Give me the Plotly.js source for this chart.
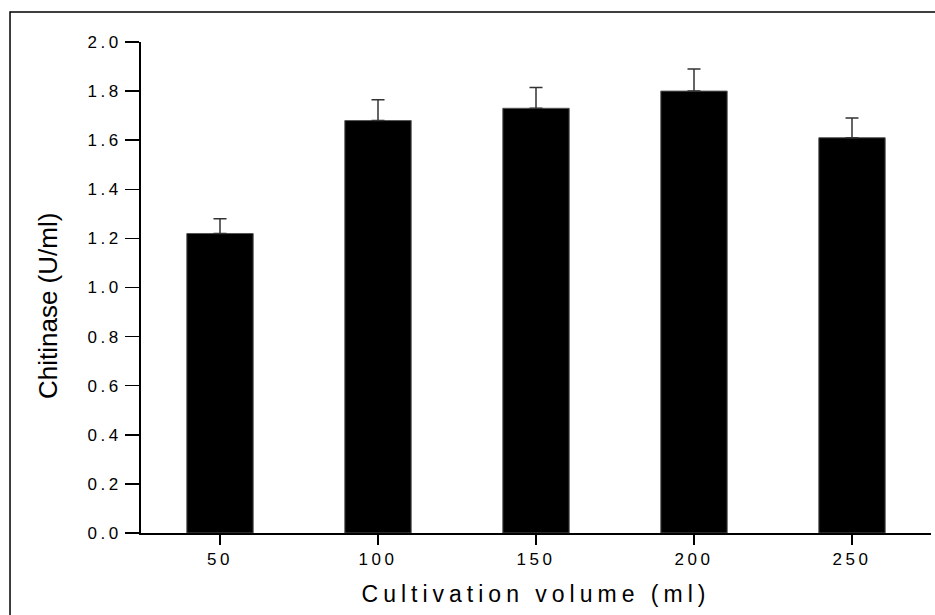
<!DOCTYPE html>
<html>
<head>
<meta charset="utf-8">
<script src="https://cdn.plot.ly/plotly-3.0.1.min.js"></script>
<style>
  html, body { margin: 0; padding: 0; background: #fff; }
  #chart { width: 935px; height: 615px; }
  .xtick text, .ytick text { letter-spacing: 3.5px; }
  .g-xtitle text { letter-spacing: 5px; }
</style>
</head>
<body>
<div id="chart"></div>
<script>
const volumes = [50, 100, 150, 200, 250];
const chitinase = [1.22, 1.68, 1.73, 1.80, 1.61];
const errorUp = [0.06, 0.085, 0.085, 0.09, 0.08];
const errorDown = [0, 0, 0, 0, 0];
const yTicks = [0, 0.2, 0.4, 0.6, 0.8, 1.0, 1.2, 1.4, 1.6, 1.8, 2.0];

const trace = {
  type: 'bar',
  x: volumes,
  y: chitinase,
  width: 21,
  marker: { color: '#000000', line: { color: '#555555', width: 1 } },
  error_y: {
    type: 'data', symmetric: false,
    array: errorUp, arrayminus: errorDown,
    color: '#333333', thickness: 1.5, width: 6.5
  },
  hoverinfo: 'none'
};

const layout = {
  width: 935, height: 615,
  margin: { l: 141, r: 4, t: 42, b: 82 },
  paper_bgcolor: '#ffffff', plot_bgcolor: '#ffffff',
  showlegend: false,
  font: { family: '"Liberation Sans", Arial, sans-serif', color: '#000000' },
  xaxis: {
    range: [25, 275],
    tickvals: volumes,
    ticktext: volumes.map(String),
    ticks: 'outside', ticklen: 10, tickwidth: 1.5, tickcolor: '#000',
    showline: true, linecolor: '#000', linewidth: 1.5,
    showgrid: false, zeroline: false,
    tickfont: { size: 17, color: '#000' },
    title: { text: 'Cultivation volume (ml)', font: { size: 23, color: '#000' }, standoff: 18 }
  },
  yaxis: {
    range: [0, 2.0],
    tickvals: yTicks,
    tickformat: '.1f',
    ticks: 'outside', ticklen: 14, tickwidth: 1.5, tickcolor: '#000',
    showline: true, linecolor: '#000', linewidth: 2,
    showgrid: false, zeroline: false,
    tickfont: { size: 17, color: '#000' }
  },
  annotations: [{
    text: 'Chitinase (U/ml)', xref: 'paper', yref: 'paper',
    x: -0.1185, y: 0.463, xanchor: 'center', yanchor: 'middle',
    textangle: -90, showarrow: false,
    font: { size: 26, color: '#000' }
  }],
  shapes: [{
    type: 'rect', xref: 'paper', yref: 'paper',
    x0: -0.1658, x1: 1.02, y0: -0.2, y1: 1.0611,
    line: { color: '#000', width: 1.5 }, fillcolor: 'rgba(0,0,0,0)'
  }]
};

Plotly.newPlot('chart', [trace], layout, { staticPlot: true, displayModeBar: false });
</script>
</body>
</html>
